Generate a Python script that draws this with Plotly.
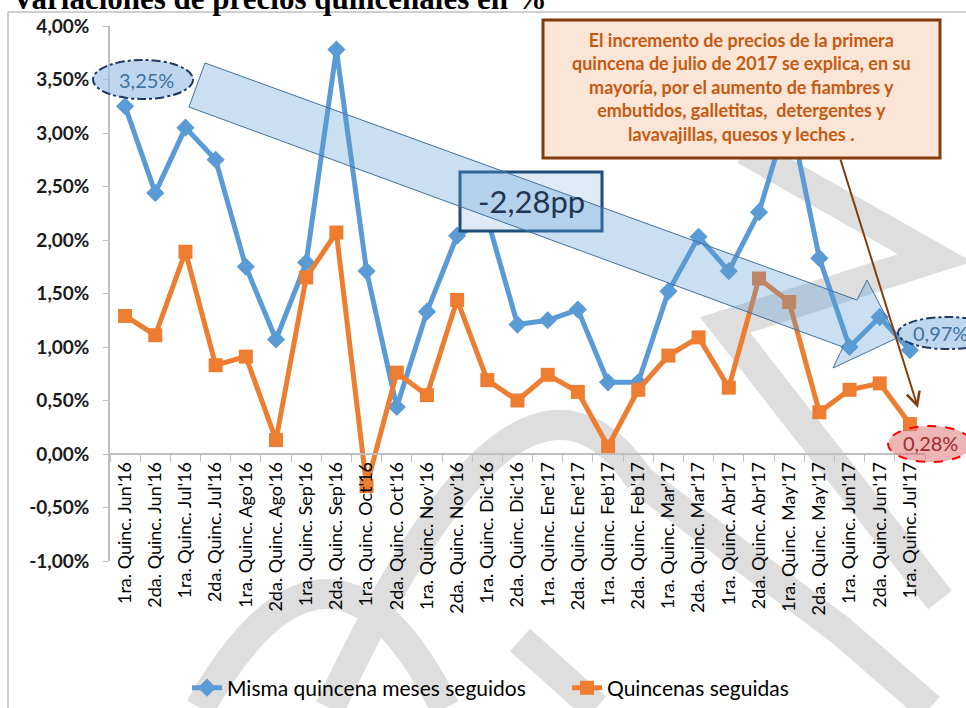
import plotly.graph_objects as go

categories = ["1ra. Quinc. Jun'16", "2da. Quinc. Jun'16", "1ra. Quinc. Jul'16", "2da. Quinc. Jul'16",
              "1ra. Quinc. Ago'16", "2da. Quinc. Ago'16", "1ra. Quinc. Sep'16", "2da. Quinc. Sep'16",
              "1ra. Quinc. Oct'16", "2da. Quinc. Oct'16", "1ra. Quinc. Nov'16", "2da. Quinc. Nov'16",
              "1ra. Quinc. Dic'16", "2da. Quinc. Dic'16", "1ra. Quinc. Ene'17", "2da. Quinc. Ene'17",
              "1ra. Quinc. Feb'17", "2da. Quinc. Feb'17", "1ra. Quinc. Mar'17", "2da. Quinc. Mar'17",
              "1ra. Quinc. Abr'17", "2da. Quinc. Abr'17", "1ra. Quinc. May'17", "2da. Quinc. May'17",
              "1ra. Quinc. Jun'17", "2da. Quinc. Jun'17", "1ra. Quinc. Jul'17"]

misma_quincena = [3.25, 2.44, 3.05, 2.75, 1.75, 1.07, 1.79, 3.78, 1.71, 0.44, 1.33, 2.04, 2.20,
                  1.21, 1.25, 1.35, 0.67, 0.67, 1.52, 2.03, 1.71, 2.26, 3.20, 1.83, 1.00, 1.28, 0.97]
quincenas_seguidas = [1.29, 1.11, 1.89, 0.83, 0.91, 0.13, 1.65, 2.07, -0.30, 0.76, 0.55, 1.44, 0.69,
                      0.50, 0.74, 0.58, 0.07, 0.60, 0.92, 1.09, 0.62, 1.64, 1.42, 0.39, 0.60, 0.66, 0.28]

y_tickvals = [-1.0, -0.5, 0.0, 0.5, 1.0, 1.5, 2.0, 2.5, 3.0, 3.5, 4.0]
y_ticktext = ["-1,00%", "-0,50%", "0,00%", "0,50%", "1,00%", "1,50%", "2,00%", "2,50%", "3,00%", "3,50%", "4,00%"]

W, H = 966, 708
L, R, T, B = 110, 925, 26, 561


def X(px):
    return (px - L) / (R - L)


def Y(py):
    return (B - py) / (B - T)


def path(points, close=True):
    s = "M " + " L ".join(f"{X(a):.5f},{Y(b):.5f}" for a, b in points)
    return s + (" Z" if close else "")


fig = go.Figure()
fig.add_trace(go.Scatter(
    x=categories, y=misma_quincena, mode="lines+markers", name="Misma quincena meses seguidos",
    line=dict(color="#5B9BD5", width=5), marker=dict(symbol="diamond", size=14, color="#5B9BD5"),
    legend="legend"))
fig.add_trace(go.Scatter(
    x=categories, y=quincenas_seguidas, mode="lines+markers", name="Quincenas seguidas",
    line=dict(color="#ED7D31", width=5), marker=dict(symbol="square", size=14, color="#ED7D31"),
    legend="legend2"))

shapes = []
wm = dict(color="#DEDEDE", width=30)
# watermark strokes (approximate)
shapes.append(dict(type="path", xref="paper", yref="paper", layer="below",
                   path=f"M {X(200)},{Y(708)} Q {X(330)},{Y(480)} {X(445)},{Y(708)}", line=wm))
shapes.append(dict(type="path", xref="paper", yref="paper", layer="below",
                   path=f"M {X(330)},{Y(708)} Q {X(520)},{Y(300)} {X(640)},{Y(480)}", line=wm))
shapes.append(dict(type="path", xref="paper", yref="paper", layer="below",
                   path=path([(640, 480), (840, 630), (930, 708)], close=False), line=wm))
shapes.append(dict(type="path", xref="paper", yref="paper", layer="below",
                   path=path([(745, 150), (935, 258), (725, 325), (940, 600)], close=False), line=wm))
shapes.append(dict(type="path", xref="paper", yref="paper", layer="below",
                   path=path([(520, 640), (596, 708)], close=False), line=wm))

# chart border
shapes.append(dict(type="line", xref="paper", yref="paper", x0=X(8), x1=X(970), y0=Y(12), y1=Y(12),
                   line=dict(color="#BFBFBF", width=1.5)))
shapes.append(dict(type="line", xref="paper", yref="paper", x0=X(8), x1=X(8), y0=Y(12), y1=Y(712),
                   line=dict(color="#BFBFBF", width=1.5)))

# text box
shapes.append(dict(type="rect", xref="paper", yref="paper", layer="above",
                   x0=X(543), x1=X(940), y0=Y(158), y1=Y(20),
                   fillcolor="#FBE5D6", line=dict(color="#843C0C", width=3)))
# -2,28pp box
shapes.append(dict(type="rect", xref="paper", yref="paper", layer="above",
                   x0=X(460), x1=X(602), y0=Y(231), y1=Y(172),
                   fillcolor="#DEEBF7", line=dict(color="#1F4E79", width=3)))
# big arrow
shapes.append(dict(type="path", xref="paper", yref="paper", layer="above",
                   path=path([(205, 63), (857, 300), (867, 280), (897, 338), (833, 368), (843, 347), (189, 107)]),
                   fillcolor="rgba(91,155,213,0.32)", line=dict(color="#41719C", width=1)))
# ellipses
shapes.append(dict(type="circle", xref="paper", yref="paper", layer="above",
                   x0=X(93), x1=X(193), y0=Y(99), y1=Y(60),
                   fillcolor="rgba(157,195,230,0.66)", line=dict(color="#203864", width=2, dash="dashdot")))
shapes.append(dict(type="circle", xref="paper", yref="paper", layer="above",
                   x0=X(898), x1=X(998), y0=Y(349), y1=Y(317),
                   fillcolor="rgba(157,195,230,0.66)", line=dict(color="#203864", width=2, dash="dashdot")))
shapes.append(dict(type="circle", xref="paper", yref="paper", layer="above",
                   x0=X(888), x1=X(972), y0=Y(462), y1=Y(426),
                   fillcolor="rgba(224,120,120,0.55)", line=dict(color="#FF0000", width=2, dash="dash")))

annotations = [
    dict(text="<b>Variaciones de precios quincenales en %</b>", xref="paper", yref="paper",
         x=X(10), y=Y(-2), xanchor="left", yanchor="middle", showarrow=False,
         font=dict(family="Liberation Serif", size=31, color="black")),
    dict(text="El incremento de precios de la primera<br>quincena de julio de 2017 se explica, en su<br>"
              "mayoría, por el aumento de fiambres y<br>embutidos, galletitas,  detergentes y<br>"
              "lavavajillas, quesos y leches .",
         xref="paper", yref="paper", x=X(741), y=Y(87), xanchor="center", yanchor="middle",
         showarrow=False, align="center",
         font=dict(family="Lato", size=18, color="#C55A11", weight="bold")),
    dict(text="-2,28pp", xref="paper", yref="paper", x=X(531), y=Y(201), xanchor="center",
         yanchor="middle", showarrow=False, font=dict(family="Lato", size=31, color="#1F3550")),
    dict(text="3,25%", xref="paper", yref="paper", x=X(117), y=Y(80), xanchor="left",
         yanchor="middle", showarrow=False, font=dict(family="Lato", size=20, color="#41719C")),
    dict(text="0,97%", xref="paper", yref="paper", x=X(911), y=Y(333), xanchor="left",
         yanchor="middle", showarrow=False, font=dict(family="Lato", size=20, color="#41719C")),
    dict(text="0,28%", xref="paper", yref="paper", x=X(930), y=Y(443), xanchor="center",
         yanchor="middle", showarrow=False, font=dict(family="Lato", size=20, color="#9B2D2D")),
    dict(text="", xref="paper", yref="paper", x=X(918), y=Y(408), axref="pixel", ayref="pixel",
         ax=-78, ay=-250, showarrow=True, arrowhead=5, arrowsize=1.3, arrowwidth=2,
         arrowcolor="#843C0C"),
]

legend_font = dict(family="Lato", size=21, color="black")
fig.update_layout(
    width=W, height=H,
    margin=dict(l=L, r=W - R, t=T, b=H - B, autoexpand=False),
    paper_bgcolor="white", plot_bgcolor="rgba(0,0,0,0)",
    shapes=shapes, annotations=annotations,
    showlegend=True,
    legend=dict(orientation="h", x=X(187), y=Y(688), xanchor="left", yanchor="middle",
                font=legend_font, bgcolor="rgba(0,0,0,0)"),
    legend2=dict(orientation="h", x=X(567), y=Y(688), xanchor="left", yanchor="middle",
                 font=legend_font, bgcolor="rgba(0,0,0,0)"),
    xaxis=dict(type="category", anchor="free", position=Y(454), range=[-0.5, len(categories) - 0.5],
               showline=True, linecolor="#BFBFBF", linewidth=1.5, ticks="outside", tickson="boundaries",
               ticklen=7, tickcolor="#BFBFBF", tickangle=-90, showgrid=False, zeroline=False,
               tickfont=dict(family="Lato", size=18, color="black")),
    yaxis=dict(range=[-1, 4], tickvals=y_tickvals, ticktext=y_ticktext, showline=True,
               linecolor="#BFBFBF", linewidth=1.5, ticks="outside", ticklen=5, tickcolor="#BFBFBF",
               showgrid=False, zeroline=False, ticklabelstandoff=10,
               tickfont=dict(family="Lato", size=19, color="#1A1A1A", weight="bold")),
)

fig.write_html("out.html", config={"displayModeBar": False},
               post_script="document.body.style.margin='0px';")
